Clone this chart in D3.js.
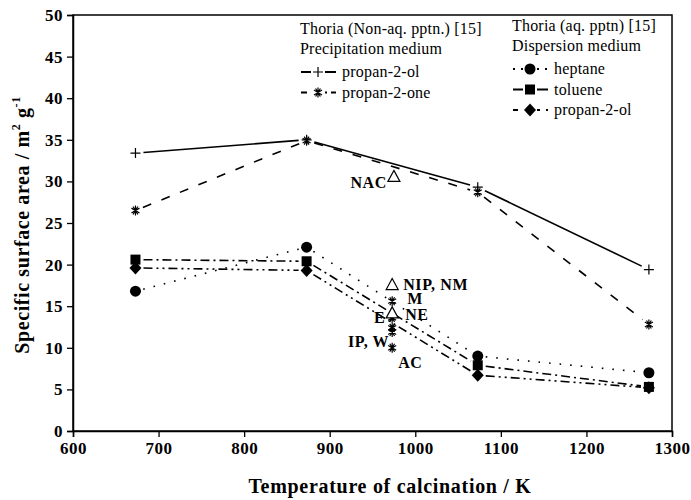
<!DOCTYPE html>
<html lang="en">
<head>
<meta charset="UTF-8">
<title>Specific surface area vs calcination temperature</title>
<script src="https://d3js.org/d3.v7.min.js"></script>
<style>
  body { margin: 0; background: #fff; }
  svg text { font-family: "Liberation Serif", "Times New Roman", serif; fill: #000; }
</style>
</head>
<body>
<div id="chart"></div>
<script>
// calcination temperatures (K)
var temps = [673, 873, 1073, 1273];

// Thoria (non-aq. pptn.) - precipitation medium
var nonAqPropanol = [33.4, 35.0, 29.3, 19.4];
var nonAqPropanone = [26.5, 34.9, 28.7, 12.8];

// Thoria (aq. pptn) - dispersion medium
var aqHeptane = [16.8, 22.1, 9.0, 7.0];
var aqToluene = [20.6, 20.4, 7.9, 5.3];
var aqPropanol = [19.6, 19.3, 6.7, 5.2];

// single samples at 973 K
var triTemp = [975, 973, 973];
var triVals = [30.6, 17.6, 14.2];
var triNames = ['NAC', 'NIP, NM', 'NE'];
var starTemp = [973, 973, 973, 973, 973];
var starVals = [15.6, 13.6, 12.4, 11.9, 10.0];
var starNames = ['M', 'E', 'IP', 'W', 'AC'];

var xTicks = [600, 700, 800, 900, 1000, 1100, 1200, 1300];
var yTicks = [0, 5, 10, 15, 20, 25, 30, 35, 40, 45, 50];

var W = 691, H = 500;
var m = {top: 15, left: 73, right: 19, bottom: 69};
var serif = '"Liberation Serif", "Times New Roman", serif';

var svg = d3.select('#chart').append('svg')
    .attr('width', W)
    .attr('height', H)
    .attr('font-family', serif);

var x = d3.scaleLinear().domain([600, 1300]).range([m.left, W - m.right]);
var y = d3.scaleLinear().domain([0, 50]).range([H - m.bottom, m.top]);

// frame
svg.append('rect')
    .attr('x', x(600)).attr('y', y(50))
    .attr('width', x(1300) - x(600)).attr('height', y(0) - y(50))
    .attr('fill', 'none').attr('stroke', '#000').attr('stroke-width', 1.5);

// minor ticks
var xMinor = d3.range(600, 1301, 20);
var yMinor = d3.range(0, 50.1, 2.5);

var gx = svg.append('g').attr('transform', 'translate(0,' + y(0) + ')');
gx.call(d3.axisBottom(x).tickValues(xMinor).tickSize(5).tickFormat(''));
gx.call(d3.axisBottom(x).tickValues(xTicks).tickSize(6).tickPadding(5).tickFormat(d3.format('d')));
gx.attr('font-family', serif);
gx.selectAll('path').attr('stroke-width', 1.5);
gx.selectAll('line').attr('stroke-width', 1.3);
gx.selectAll('text').attr('font-size', 17).attr('font-weight', 'bold').attr('letter-spacing', 0.5);

var gy = svg.append('g').attr('transform', 'translate(' + x(600) + ',0)');
gy.call(d3.axisLeft(y).tickValues(yMinor).tickSize(5).tickFormat(''));
gy.call(d3.axisLeft(y).tickValues(yTicks).tickSize(6).tickPadding(4).tickFormat(d3.format('d')));
gy.attr('font-family', serif);
gy.selectAll('path').attr('stroke-width', 1.5);
gy.selectAll('line').attr('stroke-width', 1.3);
gy.selectAll('text').attr('font-size', 17).attr('font-weight', 'bold').attr('letter-spacing', 0.5);

// axis titles
svg.append('text')
    .attr('x', 390)
    .attr('y', 493)
    .attr('text-anchor', 'middle')
    .attr('font-size', 20)
    .attr('font-weight', 'bold')
    .attr('letter-spacing', 0.7)
    .text('Temperature of calcination / K');

var yt = svg.append('text')
    .attr('transform', 'translate(29,225) rotate(-90)')
    .attr('text-anchor', 'middle')
    .attr('font-size', 20)
    .attr('font-weight', 'bold')
    .attr('letter-spacing', 0.6);
yt.append('tspan').text('Specific surface area / m');
yt.append('tspan').attr('font-size', 12).attr('dy', -9).text('2');
yt.append('tspan').attr('dy', 9).text(' g');
yt.append('tspan').attr('font-size', 12).attr('dy', -9).text('-1');

// symbol drawing
function drawSymbol(g, type, cx, cy) {
    if (type === 'plus') {
        g.append('path').attr('d', 'M' + (cx - 5) + ',' + cy + 'H' + (cx + 5) + 'M' + cx + ',' + (cy - 5) + 'V' + (cy + 5))
            .attr('stroke', '#000').attr('stroke-width', 1.2).attr('fill', 'none');
    } else if (type === 'star') {
        var r = 5, d = r * 0.8;
        g.append('path').attr('d',
            'M' + cx + ',' + (cy - r) + 'V' + (cy + r) +
            'M' + (cx - d) + ',' + (cy - d * 0.6) + 'L' + (cx + d) + ',' + (cy + d * 0.6) +
            'M' + (cx - d) + ',' + (cy + d * 0.6) + 'L' + (cx + d) + ',' + (cy - d * 0.6) +
            'M' + (cx - d * 0.6) + ',' + (cy - d) + 'L' + (cx + d * 0.6) + ',' + (cy + d) +
            'M' + (cx - d * 0.6) + ',' + (cy + d) + 'L' + (cx + d * 0.6) + ',' + (cy - d))
            .attr('stroke', '#000').attr('stroke-width', 1.2).attr('fill', 'none');
    } else if (type === 'circle') {
        g.append('circle').attr('cx', cx).attr('cy', cy).attr('r', 5.5).attr('fill', '#000');
    } else if (type === 'square') {
        g.append('rect').attr('x', cx - 5).attr('y', cy - 5).attr('width', 10).attr('height', 10).attr('fill', '#000');
    } else if (type === 'diamond') {
        g.append('path').attr('d', 'M' + cx + ',' + (cy - 6.5) + 'L' + (cx + 6) + ',' + cy + 'L' + cx + ',' + (cy + 6.5) + 'L' + (cx - 6) + ',' + cy + 'Z')
            .attr('fill', '#000');
    } else if (type === 'triangle') {
        g.append('path').attr('d', 'M' + cx + ',' + (cy - 6) + 'L' + (cx + 6) + ',' + (cy + 5) + 'L' + (cx - 6) + ',' + (cy + 5) + 'Z')
            .attr('fill', '#fff').attr('stroke', '#000').attr('stroke-width', 1.2);
    }
}

var series = [
    {vals: nonAqPropanol, sym: 'plus', dash: null},
    {vals: nonAqPropanone, sym: 'star', dash: '9,11'},
    {vals: aqHeptane, sym: 'circle', dash: '1.6,9'},
    {vals: aqToluene, sym: 'square', dash: '9,4,2,4'},
    {vals: aqPropanol, sym: 'diamond', dash: '9,4,2,4,2,4'}
];

var gap = 8;
series.forEach(function(s) {
    var g = svg.append('g');
    var pts = s.vals.map(function(v, i) { return [x(temps[i]), y(v)]; });
    for (var i = 0; i < pts.length - 1; i++) {
        var p = pts[i], q = pts[i + 1];
        var dx = q[0] - p[0], dy = q[1] - p[1];
        var len = Math.sqrt(dx * dx + dy * dy);
        var ux = dx / len, uy = dy / len;
        g.append('path')
            .attr('d', d3.line()([[p[0] + ux * gap, p[1] + uy * gap], [q[0] - ux * gap, q[1] - uy * gap]]))
            .attr('fill', 'none')
            .attr('stroke', '#000')
            .attr('stroke-width', 1.6)
            .attr('stroke-dasharray', s.dash);
    }
    pts.forEach(function(p) { drawSymbol(g, s.sym, p[0], p[1]); });
});

// single samples
var gs = svg.append('g');
starVals.forEach(function(v, i) { drawSymbol(gs, 'star', x(starTemp[i]), y(v)); });
triVals.forEach(function(v, i) { drawSymbol(gs, 'triangle', x(triTemp[i]), y(v)); });

function label(txt, px, py, anchor) {
    svg.append('text').attr('x', px).attr('y', py)
        .attr('text-anchor', anchor || 'start')
        .attr('font-size', 16).attr('font-weight', 'bold')
        .attr('letter-spacing', 0.6)
        .text(txt);
}
label(triNames[0], x(triTemp[0]) - 7, y(triVals[0]) + 12, 'end');
label(triNames[1], x(triTemp[1]) + 11, y(triVals[1]) + 5);
label(starNames[0], x(starTemp[0]) + 15, y(starVals[0]) + 3);
label(triNames[2], x(triTemp[2]) + 13, y(triVals[2]) + 7);
label(starNames[1], x(starTemp[1]) - 7, y(starVals[1]) + 5, 'end');
label(starNames[2] + ', ' + starNames[3], x(starTemp[3]) - 3, y(starVals[3]) + 15, 'end');
label(starNames[4], x(starTemp[4]) + 6, y(starVals[4]) + 20);

// legends
var legL = [
    {name: 'propan-2-ol', sym: 'plus', dash: null},
    {name: 'propan-2-one', sym: 'star', dash: '6,4'}
];
var legR = [
    {name: 'heptane', sym: 'circle', dash: '2,6'},
    {name: 'toluene', sym: 'square', dash: null},
    {name: 'propan-2-ol', sym: 'diamond', dash: '5,6'}
];

function legend(x0, y0, head1, head2, items, textX) {
    var g = svg.append('g');
    g.append('text').attr('x', x0).attr('y', y0).attr('font-size', 16).attr('letter-spacing', 0.2).text(head1);
    g.append('text').attr('x', x0).attr('y', y0 + 20).attr('font-size', 16).attr('letter-spacing', 0.2).text(head2);
    items.forEach(function(it, i) {
        var cy = y0 + 38 + i * 20.5;
        g.append('line').attr('x1', x0 + 1).attr('x2', x0 + 36).attr('y1', cy).attr('y2', cy)
            .attr('stroke', '#000').attr('stroke-width', 2)
            .attr('stroke-dasharray', it.dash);
        g.append('rect').attr('x', x0 + 11).attr('y', cy - 7).attr('width', 14).attr('height', 14).attr('fill', '#fff');
        drawSymbol(g, it.sym, x0 + 18, cy);
        g.append('text').attr('x', x0 + textX).attr('y', cy + 5).attr('font-size', 16).attr('letter-spacing', 0.2).text(it.name);
    });
}
legend(300, 34, 'Thoria (Non-aq. pptn.) [15]', 'Precipitation medium', legL, 42);
legend(512, 31, 'Thoria (aq. pptn) [15]', 'Dispersion medium', legR, 42);
</script>
</body>
</html>
